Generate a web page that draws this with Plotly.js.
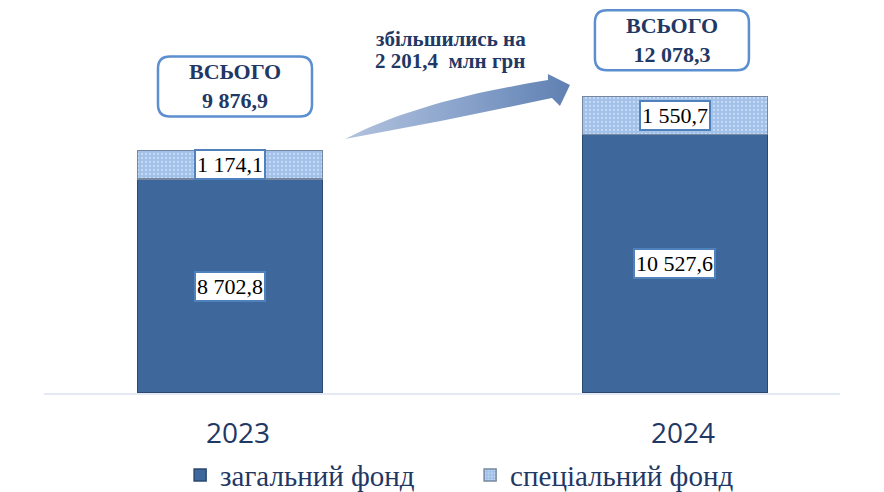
<!DOCTYPE html>
<html>
<head>
<meta charset="utf-8">
<script src="https://cdn.plot.ly/plotly-3.0.1.min.js"></script>
<style>html,body{margin:0;padding:0;background:#fff;}#chart{width:884px;height:492px;}</style>
</head>
<body>
<div id="chart"></div>
<script>
// ---- data ----
const years = ['2023', '2024'];
const generalFund = [8702.8, 10527.6];
const specialFund = [1174.1, 1550.7];
const totals = [9876.9, 12078.3];
const generalLabels = ['8 702,8', '10 527,6'];
const specialLabels = ['1 174,1', '1 550,7'];
const totalLabels = ['9 876,9', '12 078,3'];
const seriesNames = ['загальний фонд', 'спеціальний фонд'];
const growthText = ['збільшились на', '2 201,4  млн грн'];

// ---- style ----
const navy = '#1f3864';
const serif = 'Liberation Serif';
const xpos = years.map((_, i) => i);
const calloutShift = [64, 56];
const calloutDx = [5, -3];
const Y_MAX = 16000;
const PLOT = {left: 44, bottom: 393, height: 393, cat0: 230, step: 445};

// decorative curved arrow outline, in page pixels (converted through the axes below)
function quad(p0, c, p1, n) {
  const pts = [];
  for (let k = 0; k <= n; k++) {
    const t = k / n, a = (1 - t) * (1 - t), b = 2 * (1 - t) * t, d = t * t;
    pts.push([a * p0[0] + b * c[0] + d * p1[0], a * p0[1] + b * c[1] + d * p1[1]]);
  }
  return pts;
}
const arrowPx = [].concat(
  quad([345, 139], [420, 100], [548, 80], 24),
  [[548, 74], [570, 85], [560, 106]],
  quad([552, 98], [450, 120], [345, 139], 24)
);
const arrowX = arrowPx.map(p => (p[0] - PLOT.cat0) / PLOT.step);
const arrowY = arrowPx.map(p => (PLOT.bottom - p[1]) / PLOT.height * Y_MAX);

const traces = [
  {
    type: 'bar', name: seriesNames[0], x: xpos, y: generalFund, width: 0.4157,
    marker: {color: '#3e679b', line: {color: '#2a4870', width: 1.5}},
    hoverinfo: 'skip'
  },
  {
    type: 'bar', name: seriesNames[1], x: xpos, y: specialFund, width: 0.4157,
    marker: {color: '#a6c4eb', line: {color: '#75889f', width: 1.5},
      pattern: {shape: '.', fgcolor: '#c6dbf5', bgcolor: '#a2c1e9', size: 4, solidity: 0.25}},
    hoverinfo: 'skip'
  },
  {
    type: 'scatter', mode: 'lines', x: arrowX, y: arrowY, fill: 'toself',
    line: {width: 0, color: 'rgba(0,0,0,0)'},
    fillgradient: {type: 'horizontal', colorscale: [[0, '#b3c3de'], [0.5, '#8ba4cc'], [1, '#5f80b2']]},
    showlegend: false, hoverinfo: 'skip'
  }
];

const annotations = [];
const boxStyle = {bgcolor: '#ffffff', bordercolor: '#4f81bd', borderwidth: 2, borderpad: 1,
  font: {family: serif, size: 22, color: '#000'}, showarrow: false};
xpos.forEach((x, i) => {
  annotations.push(Object.assign({x: x, y: generalFund[i] / 2, xref: 'x', yref: 'y', text: generalLabels[i]}, boxStyle));
  annotations.push(Object.assign({x: x, y: generalFund[i] + specialFund[i] / 2, xref: 'x', yref: 'y', text: specialLabels[i]}, boxStyle));
  annotations.push({x: x, y: totals[i], xref: 'x', yref: 'y', xshift: calloutDx[i], yshift: calloutShift[i],
    text: '<b>ВСЬОГО</b><br><b>' + totalLabels[i] + '</b>', showarrow: false,
    font: {family: serif, size: 22, color: navy, weight: 'bold'}});
});
annotations.push({x: 0.5, y: 0, xref: 'x', yref: 'y', xshift: -1, yshift: 354, text: '<b>' + growthText[0] + '</b>', showarrow: false,
  font: {family: serif, size: 21, color: navy, weight: 'bold'}});
annotations.push({x: 0.5, y: 0, xref: 'x', yref: 'y', xshift: -2, yshift: 332, text: '<b>' + growthText[1] + '</b>', showarrow: false,
  font: {family: serif, size: 21, color: navy, weight: 'bold'}});

function roundRect(cx, cy, w, h, r) {
  const x0 = cx - w / 2, x1 = cx + w / 2, y0 = cy - h / 2, y1 = cy + h / 2;
  return `M${x0 + r},${y0} L${x1 - r},${y0} Q${x1},${y0} ${x1},${y0 + r} L${x1},${y1 - r} Q${x1},${y1} ${x1 - r},${y1} L${x0 + r},${y1} Q${x0},${y1} ${x0},${y1 - r} L${x0},${y0 + r} Q${x0},${y0} ${x0 + r},${y0} Z`;
}

const shapes = [];
xpos.forEach((x, i) => {
  shapes.push({type: 'path', xref: 'x', yref: 'y', xsizemode: 'pixel', ysizemode: 'pixel', xanchor: x, yanchor: totals[i],
    path: roundRect(calloutDx[i], calloutShift[i], 154, 60, 12),
    line: {color: '#5b8fd0', width: 2.5}, fillcolor: '#ffffff', layer: 'above'});
});

const layout = {
  width: 884, height: 492,
  margin: {l: 44, r: 44, t: 0, b: 99, autoexpand: false},
  paper_bgcolor: '#ffffff', plot_bgcolor: '#ffffff',
  barmode: 'stack', bargap: 0,
  showlegend: true,
  legend: {orientation: 'h', x: 0.171, xanchor: 'left', y: -0.209, yanchor: 'middle',
    font: {family: serif, size: 29, color: navy},
    entrywidth: 245, traceorder: 'normal'},
  xaxis: {range: [-0.418, 1.371], tickvals: xpos, ticktext: years, showgrid: false, zeroline: false,
    showline: true, linecolor: '#e3eaf5', linewidth: 2, ticks: '', fixedrange: true,
    ticklabelstandoff: 14, ticklabelshift: 8,
    tickfont: {family: 'Open Sans, sans-serif', size: 28, color: navy}},
  yaxis: {range: [0, Y_MAX], visible: false, fixedrange: true},
  annotations: annotations,
  shapes: shapes
};

Plotly.newPlot('chart', traces, layout, {displayModeBar: false, staticPlot: true});
</script>
</body>
</html>
